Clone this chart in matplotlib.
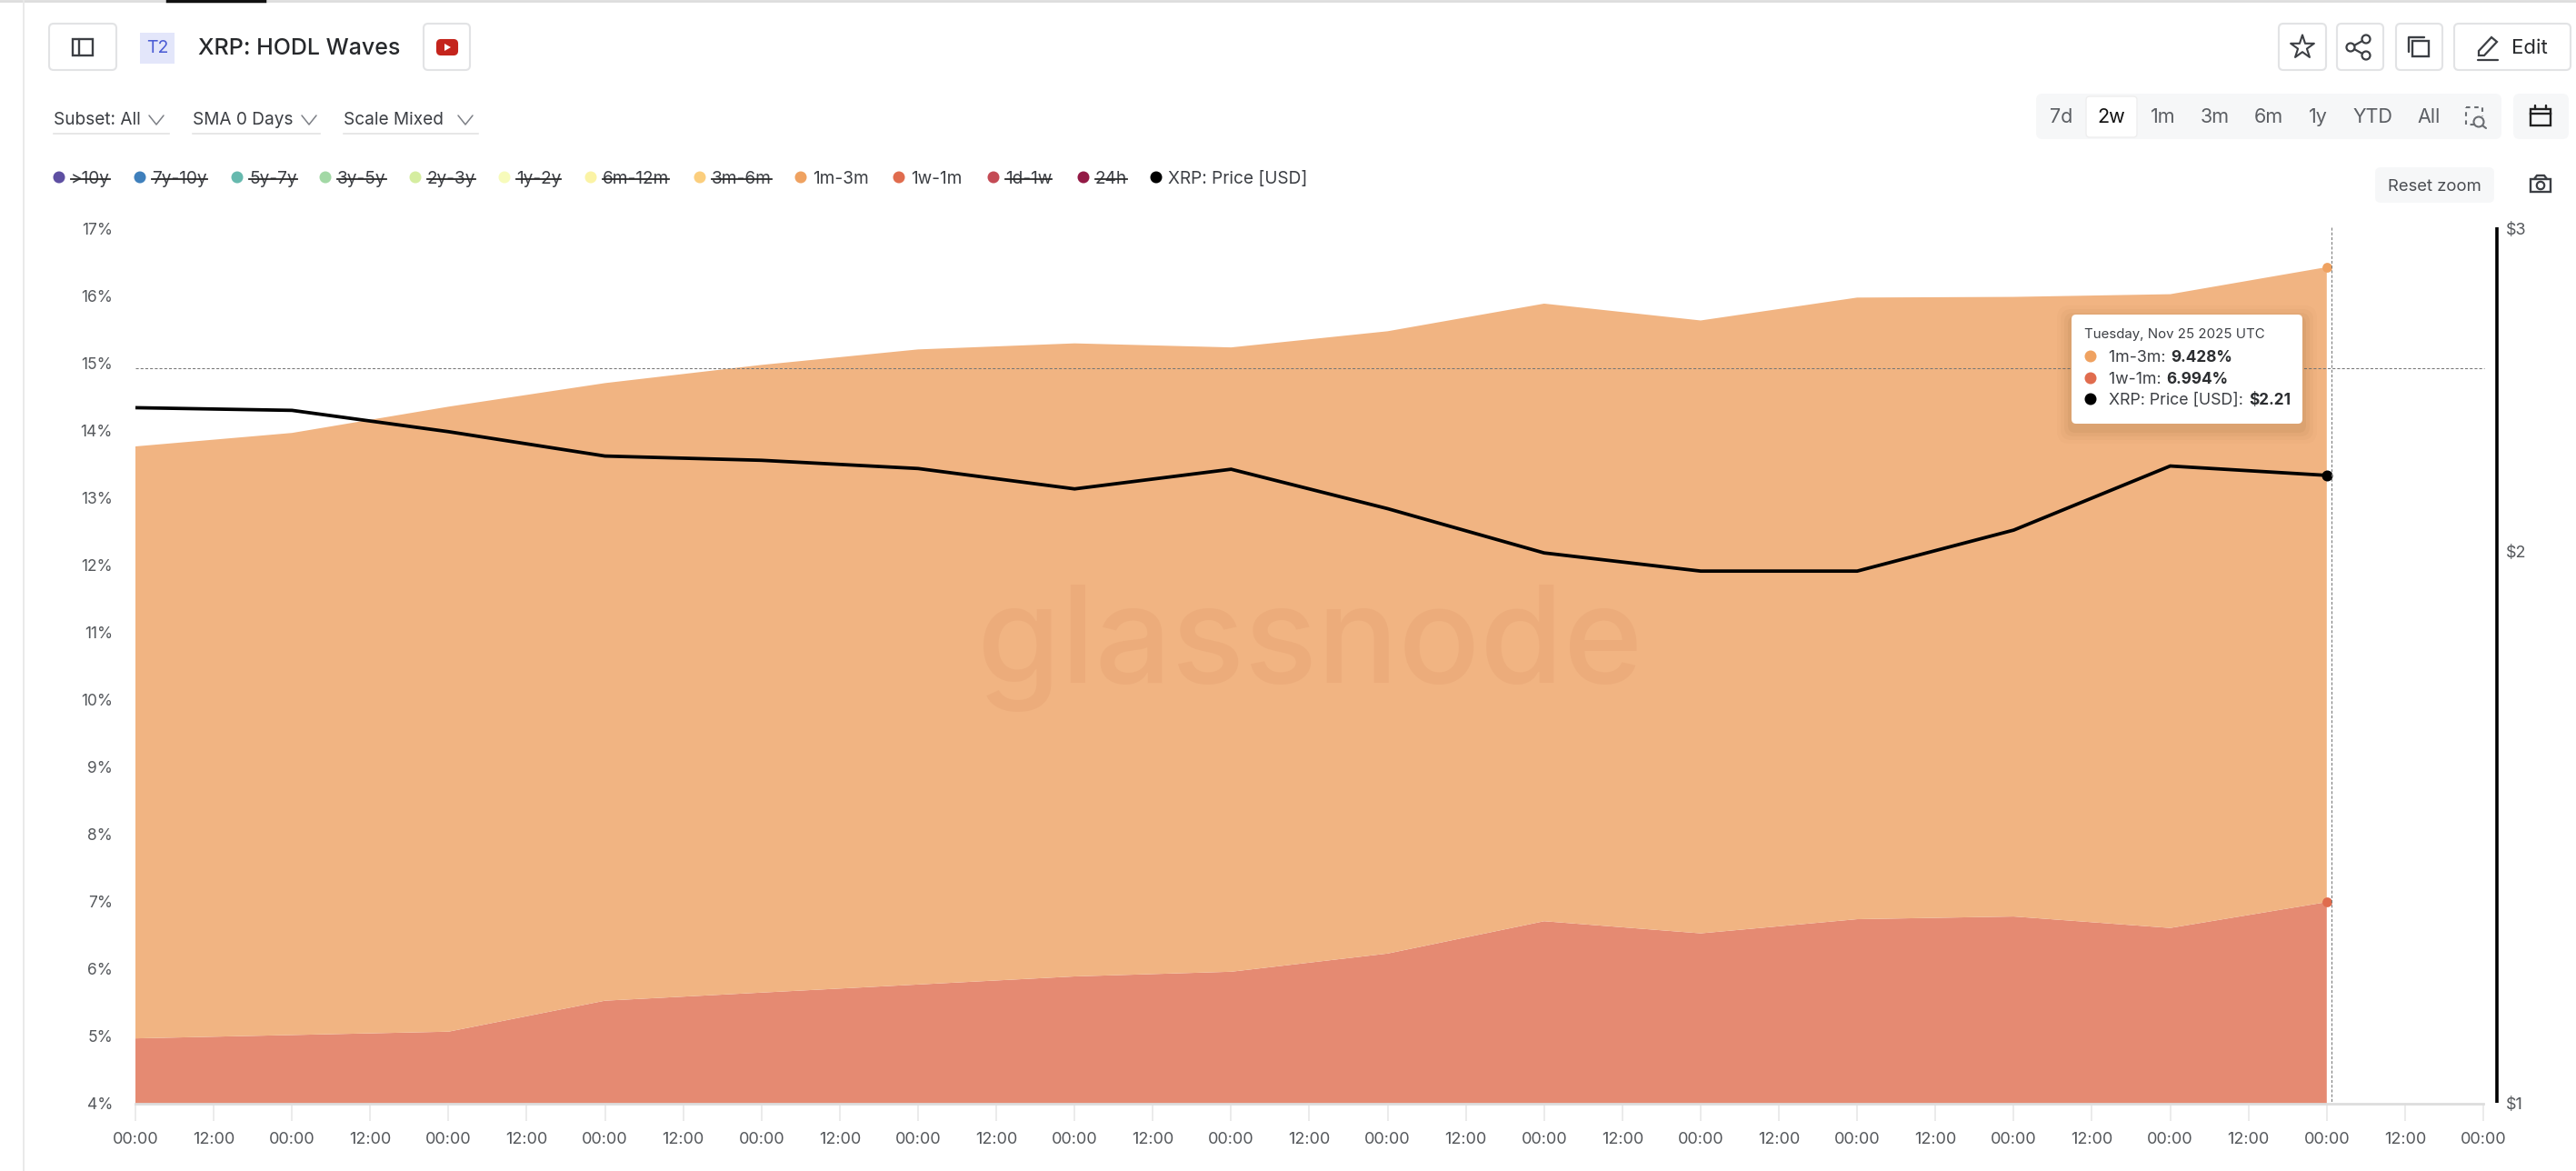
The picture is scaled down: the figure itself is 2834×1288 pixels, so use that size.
from __future__ import annotations

import matplotlib

matplotlib.use("Agg")
import matplotlib.dates as mdates
import matplotlib.pyplot as plt
import pandas as pd
from matplotlib.patches import Circle, FancyBboxPatch, Polygon, Rectangle
from matplotlib.ticker import FixedLocator, FuncFormatter, NullLocator

W, H = 2834, 1288

plt.rcParams["font.family"] = ["Inter", "DejaVu Sans"]

dates = pd.date_range("2025-11-11", "2025-11-25", freq="D")
tick_dates = pd.date_range("2025-11-11", "2025-11-26", freq="12h")

# percent of supply, daily
w1_m1 = [4.97, 5.02, 5.07, 5.53, 5.65, 5.77, 5.89, 5.96, 6.23, 6.71, 6.53, 6.74, 6.78, 6.61, 6.994]
m1_m3 = [8.79, 8.94, 9.28, 9.17, 9.32, 9.43, 9.40, 9.27, 9.24, 9.17, 9.10, 9.23, 9.20, 9.41, 9.428]
price = [2.395, 2.387, 2.324, 2.254, 2.242, 2.219, 2.163, 2.217, 2.110, 1.996, 1.951, 1.951, 2.054, 2.226, 2.20]

pct_ticks = [4, 5, 6, 7, 8, 9, 10, 11, 12, 13, 14, 15, 16, 17]
price_ticks = [1, 2, 3]

legend_names = [">10y", "7y-10y", "5y-7y", "3y-5y", "2y-3y", "1y-2y", "6m-12m", "3m-6m", "1m-3m", "1w-1m", "1d-1w", "24h", "XRP: Price [USD]"]
legend_colors = ["#5E4FA2", "#3F80BC", "#66B9AE", "#A2D8A5", "#D5EDA0", "#F7FBBB", "#FBF3A5", "#FBCE7D", "#EFA261", "#E06C4E", "#C44B55", "#931A45", "#000000"]
legend_dot_x = [65, 154, 261, 358, 457, 555, 650, 770, 881, 989, 1093, 1192, 1272]
legend_off = [">10y", "7y-10y", "5y-7y", "3y-5y", "2y-3y", "1y-2y", "6m-12m", "3m-6m", "1d-1w", "24h"]

ranges = ["7d", "2w", "1m", "3m", "6m", "1y", "YTD", "All"]
range_x = [2268, 2323, 2380, 2437, 2496, 2550, 2610, 2672]

TEXT = "#3c3f44"
AXIS_TEXT = "#55585c"
BORDER = "#e2e3e5"
BAND_UPPER = "#F1B482"
BAND_LOWER = "#E58A72"

fig = plt.figure(figsize=(W / 100, H / 100), dpi=100, facecolor="white")

# chart, pixel box 149..2732 x 251..1214
ax = fig.add_axes([149 / W, 1 - 1214 / H, (2732 - 149) / W, (1214 - 251) / H])
ax.stackplot(dates, w1_m1, m1_m3, colors=[BAND_LOWER, BAND_UPPER], linewidth=0)
ax.set_xlim(tick_dates[0], tick_dates[-1])
ax.set_ylim(4, 17)
ax.xaxis.set_major_locator(FixedLocator(mdates.date2num(tick_dates)))
ax.xaxis.set_major_formatter(mdates.DateFormatter("%H:%M"))
ax.yaxis.set_major_locator(FixedLocator(pct_ticks))
ax.yaxis.set_major_formatter(FuncFormatter(lambda v, _: f"{v:.0f}%"))
ax.tick_params(axis="x", length=14, width=1.2, color="#e8e8e8", labelsize=13, labelcolor=AXIS_TEXT, pad=8)
ax.tick_params(axis="y", length=0, labelsize=12.5, labelcolor=AXIS_TEXT, pad=18)
for side in ["top", "left", "right"]:
    ax.spines[side].set_visible(False)
ax.spines["bottom"].set_color("#dddddd")
ax.spines["bottom"].set_linewidth(2)
ax.text((1441 - 149) / 2583, (1214 - 751) / 963, "glassnode", transform=ax.transAxes, ha="center", va="baseline",
        fontsize=107, fontweight="medium", color="#ECAC7B", zorder=5)

# price on the right, log scale
ax_price = ax.twinx()
ax_price.patch.set_visible(False)
ax_price.plot(dates, price, color="black", linewidth=2.7, solid_joinstyle="miter", zorder=6)
ax_price.set_yscale("log")
ax_price.set_ylim(1, 3)
ax_price.yaxis.set_major_locator(FixedLocator(price_ticks))
ax_price.yaxis.set_minor_locator(NullLocator())
ax_price.yaxis.set_major_formatter(FuncFormatter(lambda v, _: f"${v:.0f}"))
ax_price.tick_params(axis="y", length=0, labelsize=13, labelcolor=AXIS_TEXT, pad=18)
for side in ["top", "left", "bottom", "right"]:
    ax_price.spines[side].set_visible(False)

# hover dots on the last day
ax.scatter(dates[-1], w1_m1[-1] + m1_m3[-1], s=60, color="#EFA261", zorder=7, clip_on=False, linewidth=0)
ax.scatter(dates[-1], w1_m1[-1], s=60, color="#E06C4E", zorder=7, clip_on=False, linewidth=0)
ax_price.scatter(dates[-1], price[-1], s=75, color="black", zorder=7, clip_on=False, linewidth=0)

# page chrome in pixel coordinates
ui = fig.add_axes([0, 0, 1, 1], zorder=10)
ui.set_xlim(0, W)
ui.set_ylim(H, 0)
ui.axis("off")
ui.patch.set_alpha(0)


def button(x0, y0, x1, y1, face="white", edge=BORDER, radius=5, z=2, lw=1.5):
    p = FancyBboxPatch((x0 + radius, y0 + radius), x1 - x0 - 2 * radius, y1 - y0 - 2 * radius,
                       boxstyle=f"round,pad={radius},rounding_size={radius}", facecolor=face, edgecolor=edge,
                       linewidth=lw, zorder=z)
    ui.add_patch(p)
    return p


def stroke(xs, ys, color=TEXT, lw=1.8, z=4, ls="-"):
    ui.plot(xs, ys, color=color, linewidth=lw, zorder=z, linestyle=ls, solid_capstyle="round")


def box(x0, y0, x1, y1, color=TEXT, lw=1.8, ls="-", z=4):
    ui.add_patch(Rectangle((x0, y0), x1 - x0, y1 - y0, fill=False, edgecolor=color, linewidth=lw, linestyle=ls, zorder=z))


def chevron(x, y):
    stroke([x - 8, x, x + 8], [y - 5, y + 5, y - 5], color="#7d8086", lw=1.1)


def label(x, y, s, size=14, color=TEXT, ha="left", weight="normal", z=6):
    return ui.text(x, y, s, fontsize=size, color=color, ha=ha, va="center", fontweight=weight, zorder=z)


# top rule and sidebar edge
ui.plot([0, W], [1, 1], color="#dddddd", linewidth=2, zorder=1)
ui.plot([184, 291], [1, 1], color="#111111", linewidth=2.5, zorder=2)
ui.plot([26, 26], [0, H], color="#e8e8e8", linewidth=1.3, zorder=1)

# header left
button(54, 26, 128, 77)
box(80, 43, 102, 61, lw=1.7)
stroke([87, 87], [43, 61], lw=1.7)
ui.add_patch(Rectangle((154, 36), 38, 34, facecolor="#E3E6FA", edgecolor="none", zorder=2))
label(173, 53, "T2", size=14, color="#4A5BD4", ha="center")
label(218, 53, "XRP: HODL Waves", size=18, color="#26282b", weight="medium")
button(466, 26, 517, 77)
button(481, 44, 503, 60, face="#C4241C", edge="#C4241C", radius=4)
ui.add_patch(Polygon([[489, 48], [489, 56], [496, 52]], facecolor="white", edgecolor="none", zorder=5))

# dropdowns
for x0, x1, chev, s in [(59, 186, 172, "Subset: All"), (212, 352, 340, "SMA 0 Days"), (378, 526, 512, "Scale Mixed")]:
    label(x0, 132, s, size=13.7)
    chevron(chev, 132)
    ui.plot([x0, x1], [147, 147], color="#e3e3e3", linewidth=1.2, zorder=2)

# header right
button(2507, 26, 2559, 77)
button(2571, 26, 2622, 77)
button(2636, 26, 2687, 77)
button(2700, 26, 2828, 77)
ui.scatter([2533], [52], marker="*", s=380, facecolor="none", edgecolor=TEXT, linewidth=1.5, zorder=4)
for cx, cy in [(2586, 52), (2603, 43), (2603, 61)]:
    ui.add_patch(Circle((cx, cy), 4.5, fill=False, edgecolor=TEXT, linewidth=1.6, zorder=4))
stroke([2590, 2599], [50, 45], lw=1.6)
stroke([2590, 2599], [54, 59], lw=1.6)
box(2654, 45, 2672, 62, lw=1.7)
stroke([2650, 2650, 2667], [57, 41, 41], lw=1.7)
ui.add_patch(Polygon([[2727, 56], [2741, 41], [2747, 46], [2733, 61], [2727, 61]], fill=False, edgecolor=TEXT, linewidth=1.6, zorder=4))
stroke([2726, 2748], [66, 66], lw=1.6)
label(2763, 53, "Edit", size=16, color="#26282b")

# range selector
button(2240, 103, 2752, 153, face="#f6f7f8", edge="none", radius=7, lw=0)
button(2295, 106, 2351, 151, face="#ffffff", edge="#eeeeee", radius=4, z=3, lw=1)
for x, s in zip(range_x, ranges):
    label(x, 129, s, size=15.5, color="#111111" if s == "2w" else "#5c5f64", ha="center")
box(2713, 118, 2731, 137, color="#6a6d72", lw=1.5, ls=(0, (2.2, 2.2)))
ui.add_patch(Rectangle((2724, 128), 12, 12, facecolor="#f6f7f8", edgecolor="none", zorder=4.5))
ui.add_patch(Circle((2727, 134), 5.5, facecolor="#f6f7f8", edgecolor="#6a6d72", linewidth=1.5, zorder=5))
stroke([2731, 2735], [138, 141], color="#6a6d72", lw=1.5, z=5)
button(2765, 103, 2826, 153, face="#f6f7f8", edge="none", radius=7, lw=0)
box(2784, 120, 2806, 138, lw=1.7, color="#222222")
ui.plot([2784, 2806], [125, 125], color="#222222", linewidth=1.7, zorder=4)
stroke([2789, 2789], [116, 120], lw=1.7, color="#222222")
stroke([2801, 2801], [116, 120], lw=1.7, color="#222222")

# reset zoom and camera
button(2613, 184, 2744, 223, face="#f6f7f8", edge="none", radius=6, lw=0)
label(2678, 205, "Reset zoom", size=13.3, color="#4a4d52", ha="center")
box(2784, 197, 2806, 211, lw=1.7)
stroke([2788, 2791, 2799, 2802], [197, 193, 193, 197], lw=1.7)
ui.add_patch(Circle((2795, 204), 4.2, fill=False, edgecolor=TEXT, linewidth=1.6, zorder=4))

# legend row with struck-through names
renderer = fig.canvas.get_renderer()
for x, s, c in zip(legend_dot_x, legend_names, legend_colors):
    ui.add_patch(Circle((x, 195), 6.5, facecolor=c, edgecolor="none", zorder=4))
    t = label(x + 13, 196.5, s, size=13.7)
    if s in legend_off:
        bb = t.get_window_extent(renderer)
        ui.plot([bb.x0, bb.x1], [197, 197], color="#2a2a2a", linewidth=1.3, zorder=7)

# price axis bar and crosshair
ui.plot([2747, 2747], [250, 1213], color="black", linewidth=2.6, solid_capstyle="butt", zorder=3)
ui.plot([2565, 2565], [250, 1213], color="#777777", linewidth=0.75, linestyle=(0, (3, 2)), zorder=3)
ui.plot([149, 2733], [405, 405], color="#777777", linewidth=0.75, linestyle=(0, (3, 2)), zorder=3)

# tooltip
for grow, alpha in [(16, 0.02), (12, 0.03), (8, 0.04), (4, 0.05)]:
    button(2279 - grow, 346 - grow + 6, 2533 + grow, 466 + grow + 6, face=(0.35, 0.2, 0.05, alpha), edge="none", radius=6 + grow / 2, z=4, lw=0)
button(2279, 346, 2533, 466, face="white", edge="none", radius=5, z=5, lw=0)
label(2293, 368, "Tuesday, Nov 25 2025 UTC", size=10.8, color="#3c3f44")
tip_rows = [(393, "#EFA261", "1m-3m: ", "9.428%"), (417, "#E06C4E", "1w-1m: ", "6.994%"), (440, "#000000", "XRP: Price [USD]: ", "$2.21")]
for y, c, name, val in tip_rows:
    ui.add_patch(Circle((2300, y - 1), 6.5, facecolor=c, edgecolor="none", zorder=6))
    t = label(2320, y, name, size=12.8, color="#3c3f44")
    bb = t.get_window_extent(renderer)
    label(bb.x1 + 1, y, val, size=12.4, color="#2c2e31", weight="bold")

fig.savefig("out.png", dpi=100, facecolor="white")
